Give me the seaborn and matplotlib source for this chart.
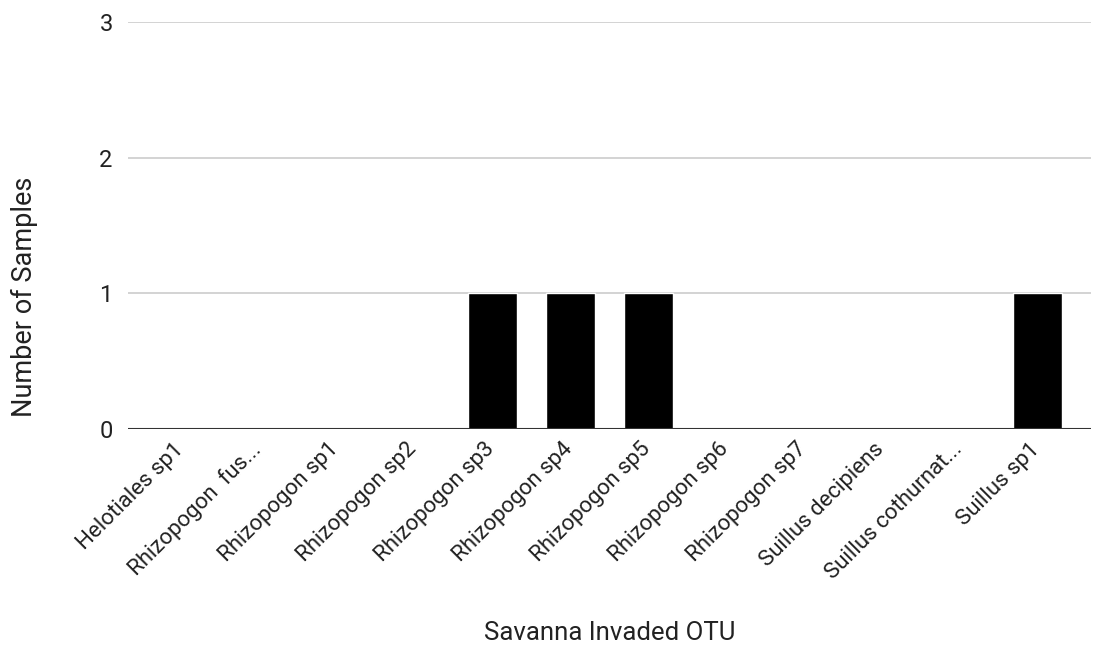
import matplotlib
matplotlib.use("Agg")
import matplotlib.pyplot as plt
import matplotlib.transforms as mtransforms
import seaborn as sns
import pandas as pd

otus = [
    "Helotiales sp1", "Rhizopogon  fus...", "Rhizopogon sp1", "Rhizopogon sp2",
    "Rhizopogon sp3", "Rhizopogon sp4", "Rhizopogon sp5", "Rhizopogon sp6",
    "Rhizopogon sp7", "Suillus decipiens", "Suillus cothurnat...", "Suillus sp1",
]
samples = [0, 0, 0, 0, 1, 1, 1, 0, 0, 0, 0, 1]
y_ticks = [0, 1, 2, 3]

sns.set_theme(style="white")
plt.rcParams["font.family"] = ["Roboto", "DejaVu Sans"]

df = pd.DataFrame({"otu": otus, "n": samples})

fig = plt.figure(figsize=(10.94, 6.55), dpi=100)
ax = fig.add_axes([0.117, 0.345, 0.88, 0.621])

sns.barplot(data=df, x="otu", y="n", color="black", width=0.63,
            saturation=1, ax=ax, zorder=3)

ax.set_xlim(-0.68, len(otus) - 0.32)
ax.set_ylim(0, 3)
ax.set_yticks(y_ticks)
ax.set_yticklabels([str(t) for t in y_ticks], fontsize=17, color="#222222")
ax.yaxis.grid(True, color="#cccccc", linewidth=1.2, zorder=0)
ax.axhline(0, color="#333333", linewidth=1.5, zorder=4)
for s in ax.spines.values():
    s.set_visible(False)
ax.tick_params(axis="y", length=0, pad=11)
ax.tick_params(axis="x", length=0, pad=7)

ax.set_xticks(range(len(otus)))
ax.set_xticklabels(otus, rotation=45, ha="right", rotation_mode="anchor",
                   fontsize=16, color="#222222")
# nudge the rotated labels so their ends sit just under each category
shift = mtransforms.ScaledTranslation(-6 / 72, 0, fig.dpi_scale_trans)
for lbl in ax.get_xticklabels():
    lbl.set_transform(lbl.get_transform() + shift)

ax.set_ylabel("Number of Samples", fontsize=19.5, color="#222222")
ax.yaxis.set_label_coords(-0.093, 0.324)
ax.set_xlabel("")
fig.text(0.557, 0.033, "Savanna Invaded OTU", ha="center", va="center",
         fontsize=18.5, color="#222222")

fig.savefig("out.png", dpi=100, facecolor="white")
